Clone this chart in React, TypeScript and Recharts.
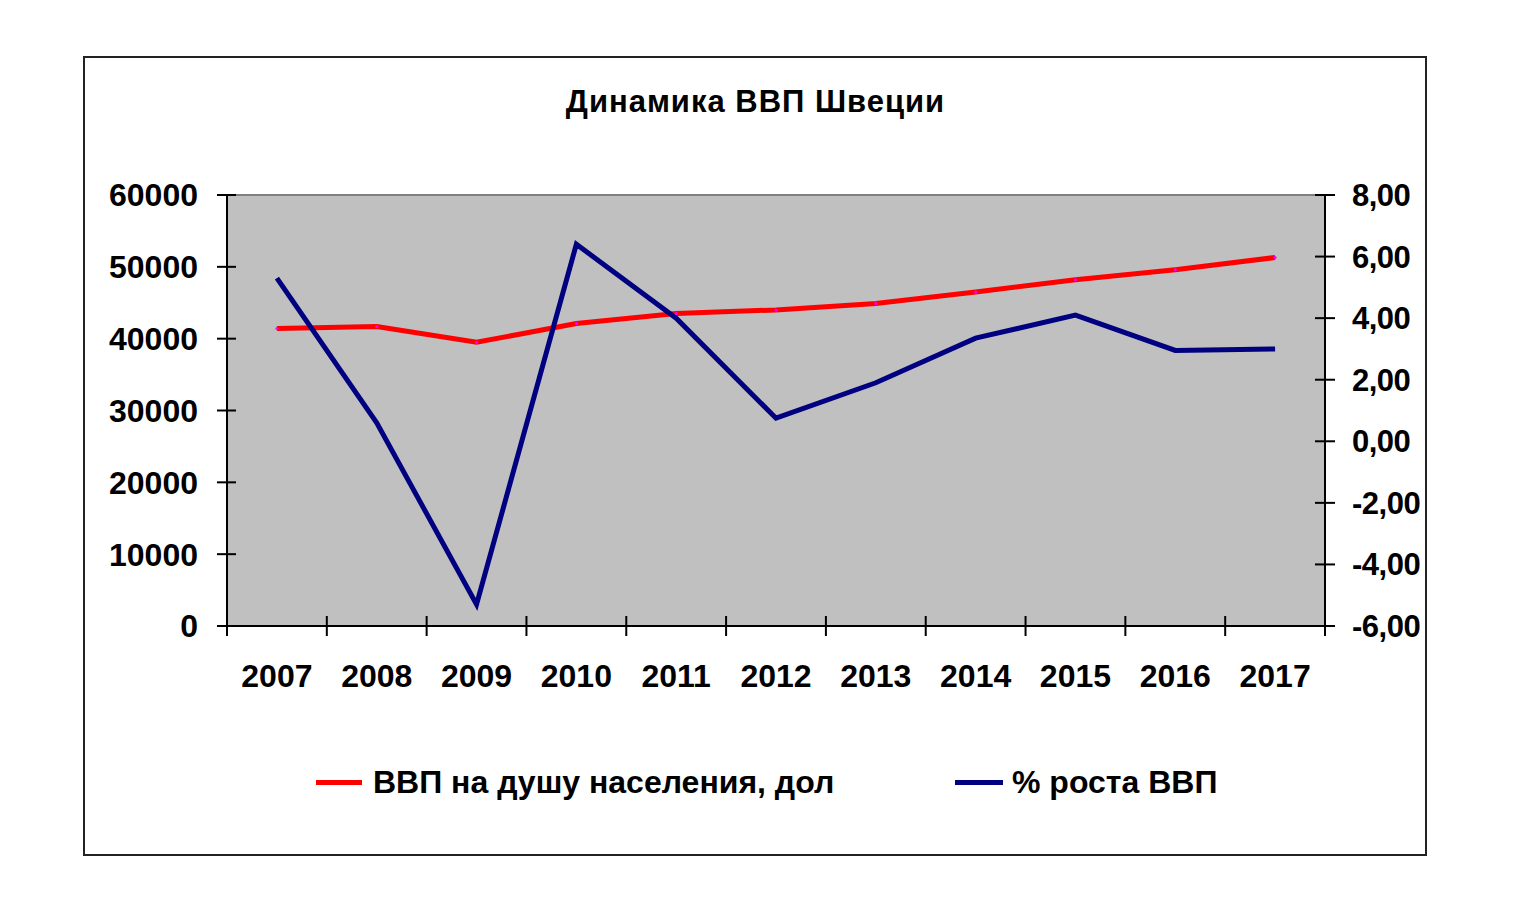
import React from "react";
import {
  LineChart,
  Line,
  XAxis,
  YAxis,
  CartesianGrid,
  ReferenceLine,
} from "recharts";

const years = ["2007", "2008", "2009", "2010", "2011", "2012", "2013", "2014", "2015", "2016", "2017"];
const gdpPerCapita = [41400, 41700, 39500, 42100, 43500, 44000, 44900, 46500, 48200, 49600, 51300];
const gdpGrowth = [5.3, 0.6, -5.3, 6.4, 4.0, 0.75, 1.9, 3.35, 4.1, 2.95, 3.0];
const leftTicks = [0, 10000, 20000, 30000, 40000, 50000, 60000];
const rightTicks = [-6, -4, -2, 0, 2, 4, 6, 8];

const FONT = "'Liberation Sans', Arial, sans-serif";
const FS = 32;
const W = 1520;
const H = 903;
const PLOT_LEFT = 227;
const PLOT_RIGHT = 1325;
const PLOT_TOP = 195;
const PLOT_BOTTOM = 626;
const BAND = (PLOT_RIGHT - PLOT_LEFT) / years.length;

const data = years.map((y, i) => ({ year: y, gdp: gdpPerCapita[i], growth: gdpGrowth[i] }));

const fmtRight = (v: number) => (v === 0 ? "0,00" : v.toFixed(2).replace(".", ","));

function LeftTick(props: any) {
  const { x, y, payload } = props;
  const ax = x + 29;
  return (
    <g>
      <line x1={ax - 10} x2={ax + 9} y1={y} y2={y} stroke="#000" strokeWidth={2} />
      <text x={x} y={y} dy="0.355em" textAnchor="end" fontFamily={FONT} fontWeight="bold" fontSize={FS} fill="#000">
        {payload.value}
      </text>
    </g>
  );
}

function RightTick(props: any) {
  const { x, y, payload } = props;
  const ax = x - 27;
  return (
    <g>
      <line x1={ax - 10} x2={ax + 10} y1={y} y2={y} stroke="#000" strokeWidth={2} />
      <text x={x} y={y} dy="0.355em" textAnchor="start" fontFamily={FONT} fontWeight="bold" fontSize={31} letterSpacing={-0.5} fill="#000">
        {fmtRight(payload.value)}
      </text>
    </g>
  );
}

function BottomTick(props: any) {
  const { x, y, payload, index } = props;
  const ay = y - 38;
  const bx = x - BAND / 2;
  return (
    <g>
      <line x1={bx} x2={bx} y1={ay - 10} y2={ay + 10} stroke="#000" strokeWidth={2} />
      {index === years.length - 1 && (
        <line x1={x + BAND / 2} x2={x + BAND / 2} y1={ay - 10} y2={ay + 10} stroke="#000" strokeWidth={2} />
      )}
      <text x={x} y={y} dy="0.71em" textAnchor="middle" fontFamily={FONT} fontWeight="bold" fontSize={FS} fill="#000">
        {payload.value}
      </text>
    </g>
  );
}

export default function App() {
  return (
    <div style={{ position: "absolute", left: 0, top: 0, width: W, height: H, background: "#fff", fontFamily: FONT }}>
      <div
        style={{
          position: "absolute",
          left: 83,
          top: 56,
          width: 1344,
          height: 800,
          boxSizing: "border-box",
          border: "2px solid #222",
        }}
      />
      <div
        style={{
          position: "absolute",
          left: 0,
          width: 1511,
          top: 84,
          textAlign: "center",
          fontWeight: "bold",
          fontSize: 31,
          letterSpacing: 1,
          color: "#000",
        }}
      >
        Динамика ВВП Швеции
      </div>
      <div style={{ position: "absolute", left: 0, top: 0 }}>
        <LineChart
          width={W}
          height={H}
          data={data}
          margin={{ top: PLOT_TOP, right: 0, bottom: H - PLOT_BOTTOM - 60, left: 0 }}
        >
          <CartesianGrid horizontal={false} vertical={false} fill="#C0C0C0" />
          <ReferenceLine yAxisId="left" y={60000} stroke="#808080" strokeWidth={2} />
          <XAxis
            dataKey="year"
            height={60}
            padding={{ left: BAND / 2, right: BAND / 2 }}
            tickSize={10}
            tickMargin={28}
            tickLine={false}
            axisLine={{ stroke: "#000", strokeWidth: 2 }}
            tick={<BottomTick />}
            interval={0}
          />
          <YAxis
            yAxisId="left"
            orientation="left"
            width={PLOT_LEFT}
            domain={[0, 60000]}
            ticks={leftTicks}
            tickSize={10}
            tickMargin={19}
            tickLine={false}
            axisLine={{ stroke: "#000", strokeWidth: 2 }}
            tick={<LeftTick />}
            interval={0}
          />
          <YAxis
            yAxisId="right"
            orientation="right"
            width={W - PLOT_RIGHT}
            domain={[-6, 8]}
            ticks={rightTicks}
            tickSize={10}
            tickMargin={17}
            tickLine={false}
            axisLine={{ stroke: "#000", strokeWidth: 2 }}
            tick={<RightTick />}
            interval={0}
          />
          <Line
            yAxisId="left"
            type="linear"
            dataKey="gdp"
            stroke="#FF0000"
            strokeWidth={5}
            dot={{ r: 1.5, fill: "#FF00FF", stroke: "none" }}
            isAnimationActive={false}
          />
          <Line
            yAxisId="right"
            type="linear"
            dataKey="growth"
            stroke="#000080"
            strokeWidth={5}
            dot={false}
            isAnimationActive={false}
          />
        </LineChart>
      </div>
      <div
        style={{
          position: "absolute",
          top: 764,
          left: 316,
          display: "flex",
          alignItems: "center",
          fontWeight: "bold",
          fontSize: FS,
          color: "#000",
          whiteSpace: "nowrap",
        }}
      >
        <span style={{ display: "inline-block", width: 46, height: 5, background: "#FF0000", marginRight: 11 }} />
        <span>ВВП на душу населения, дол</span>
      </div>
      <div
        style={{
          position: "absolute",
          top: 764,
          left: 955,
          display: "flex",
          alignItems: "center",
          fontWeight: "bold",
          fontSize: FS,
          color: "#000",
          whiteSpace: "nowrap",
        }}
      >
        <span style={{ display: "inline-block", width: 48, height: 5, background: "#000080", marginRight: 9 }} />
        <span>% роста ВВП</span>
      </div>
    </div>
  );
}
